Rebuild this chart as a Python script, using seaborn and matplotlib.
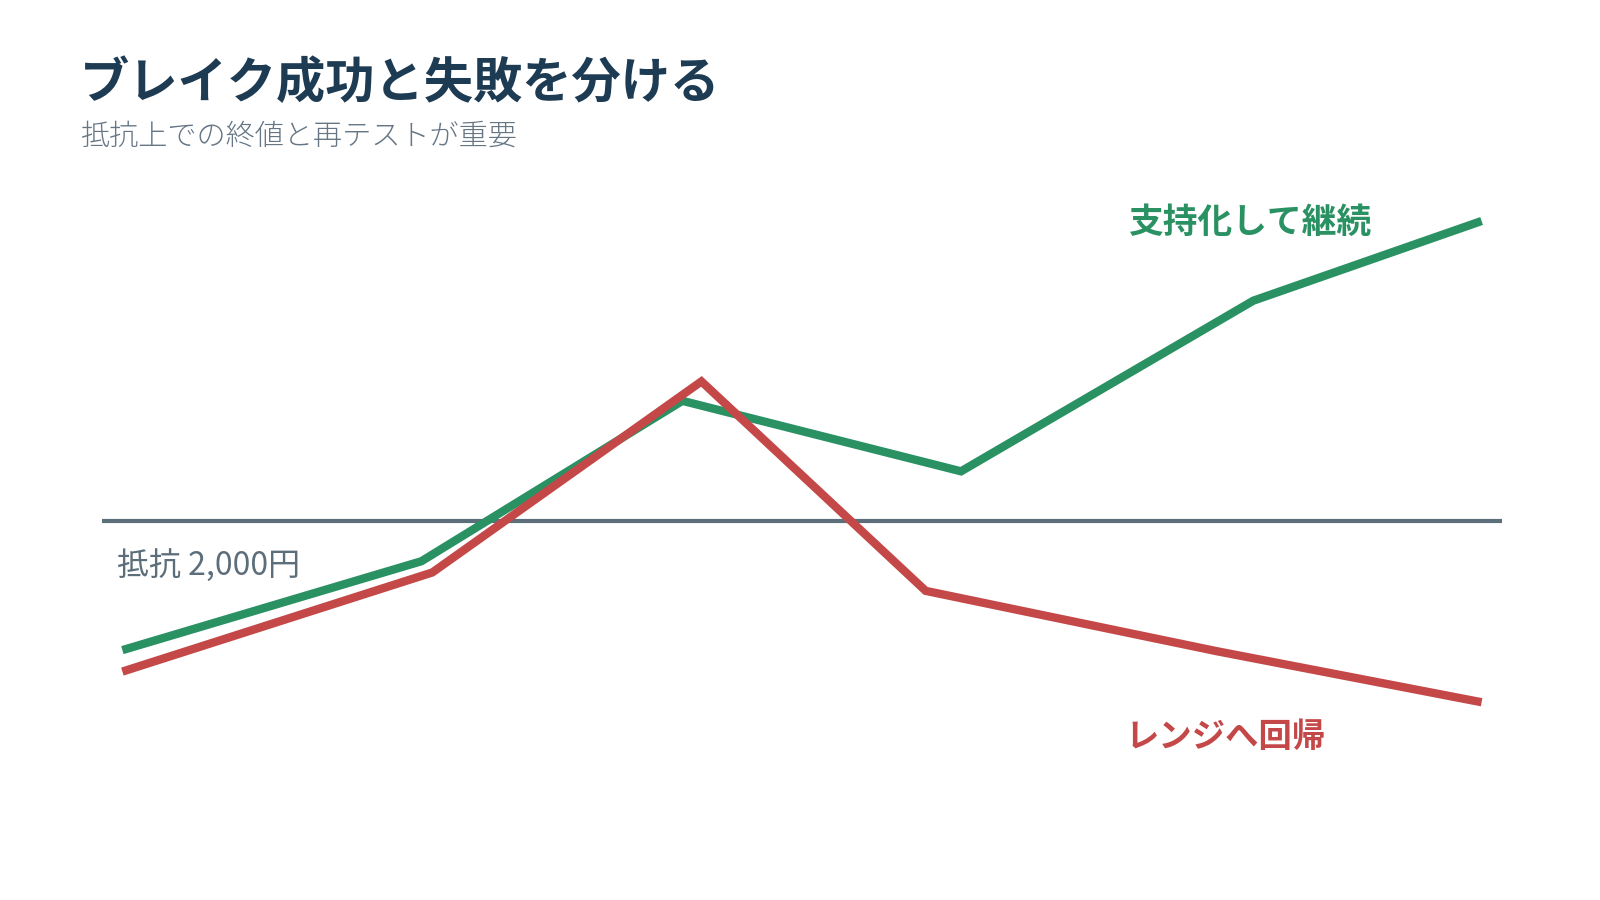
import pandas as pd
import matplotlib.pyplot as plt
import seaborn as sns

# --- data (days since start vs. price in yen) ---
success_x = [0, 22.0, 41.2, 61.7, 83.2, 100]
success_price = [1937, 1980.5, 2059, 2024.5, 2108, 2147]
fail_x = [0, 22.8, 42.6, 59.1, 80.5, 100]
fail_price = [1926.5, 1975, 2068.5, 1966, 1936.5, 1911.5]
resistance = 2000

title = "ブレイク成功と失敗を分ける"
subtitle = "抵抗上での終値と再テストが重要"
success_label = "支持化して継続"
fail_label = "レンジへ回帰"
resistance_label = "抵抗 2,000円"

GREEN = "#2a9163"
RED = "#c44848"
SLATE = "#5d6e7b"
NAVY = "#1d3b53"
GREY = "#667685"

df = pd.concat([
    pd.DataFrame({"x": success_x, "price": success_price, "series": "success"}),
    pd.DataFrame({"x": fail_x, "price": fail_price, "series": "fail"}),
], ignore_index=True)

sns.set_theme(style="white")
plt.rcParams["font.family"] = ["Noto Sans CJK JP", "DejaVu Sans"]

fig = plt.figure(figsize=(16, 9), dpi=100)
fig.patch.set_facecolor("white")
ax = fig.add_axes([102 / 1600, 21 / 900, 1400 / 1600, 705 / 900])

# resistance line
ax.axhline(resistance, color=SLATE, linewidth=3, zorder=1)

sns.lineplot(data=df, x="x", y="price", hue="series", hue_order=["success", "fail"],
             palette={"success": GREEN, "fail": RED}, linewidth=6, sort=False,
             legend=False, ax=ax, zorder=2)
for ln in ax.lines[1:]:
    ln.set_solid_joinstyle("miter")
    ln.set_solid_capstyle("butt")

ax.set_xlim(-1.5, 101.5)
ax.set_ylim(1825, 2170)
ax.axis("off")

# annotations
ax.text(-0.4, 1978.5, resistance_label, color=SLATE, fontsize=23, va="center", ha="left")
ax.text(74.0, 2146.5, success_label, color=GREEN, fontsize=25, fontweight="bold",
        va="center", ha="left")
ax.text(73.8, 1894, fail_label, color=RED, fontsize=24, fontweight="bold",
        va="center", ha="left")

fig.text(80 / 1600, 1 - 84 / 900, title, color=NAVY, fontsize=35.5, fontweight="bold",
         va="center", ha="left")
fig.text(80 / 1600, 1 - 136 / 900, subtitle, color=GREY, fontsize=21, fontweight="light",
         va="center", ha="left")

fig.savefig("out.png", dpi=100, facecolor="white")
plt.close(fig)
